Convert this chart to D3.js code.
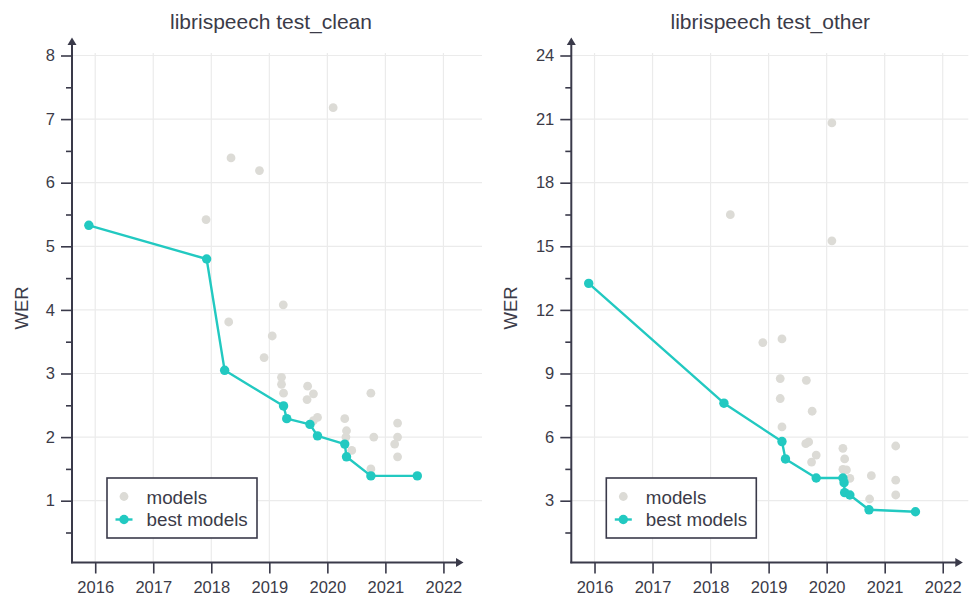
<!DOCTYPE html>
<html>
<head>
<meta charset="utf-8">
<script src="https://cdn.jsdelivr.net/npm/d3@7"></script>
<style>
  body { margin: 0; background: #fff; }
  svg { display: block; font-family: "Liberation Sans", Arial, sans-serif; }
</style>
</head>
<body>
<svg id="chart" width="969" height="597"></svg>
<script>
// ---- data ----
const yearTicks = [2016, 2017, 2018, 2019, 2020, 2021, 2022];
const cleanTicks = [1, 2, 3, 4, 5, 6, 7, 8];
const otherTicks = [3, 6, 9, 12, 15, 18, 21, 24];
const legendLabels = ["models", "best models"];
const panelTitles = ["librispeech test_clean", "librispeech test_other"];
const yLabel = "WER";

// [date as fractional year, WER]
const cleanModels = [
  [2020.10, 7.18], [2018.34, 6.39], [2018.83, 6.19], [2017.91, 5.42],
  [2018.30, 3.81], [2019.24, 4.08], [2019.05, 3.59], [2018.91, 3.25],
  [2019.21, 2.94], [2019.21, 2.83], [2019.245, 2.69], [2019.66, 2.80],
  [2019.76, 2.68], [2019.65, 2.59], [2019.83, 2.31], [2019.76, 2.26],
  [2020.30, 2.29], [2020.33, 2.10], [2020.32, 2.00], [2020.42, 1.79],
  [2020.75, 2.69], [2020.80, 2.00], [2020.75, 1.50], [2021.21, 2.22],
  [2021.21, 2.00], [2021.16, 1.89], [2021.21, 1.69]
];
const cleanBest = [
  [2015.89, 5.33], [2017.92, 4.80], [2018.23, 3.05], [2019.245, 2.49],
  [2019.30, 2.29], [2019.70, 2.20], [2019.83, 2.02], [2020.30, 1.89],
  [2020.33, 1.69], [2020.75, 1.39], [2021.55, 1.39]
];
const otherModels = [
  [2020.09, 20.82], [2018.34, 16.49], [2020.09, 15.26], [2018.90, 10.46],
  [2019.23, 10.63], [2019.20, 8.76], [2019.65, 8.68], [2019.20, 7.82],
  [2019.75, 7.22], [2019.23, 6.48], [2019.64, 5.69], [2019.69, 5.77],
  [2019.82, 5.15], [2019.74, 4.82], [2020.28, 5.47], [2020.31, 4.97],
  [2020.28, 4.48], [2020.34, 4.45], [2020.40, 4.05], [2020.77, 4.18],
  [2020.74, 3.08], [2021.19, 5.58], [2021.19, 3.97], [2021.19, 3.27]
];
const otherBest = [
  [2015.90, 13.25], [2018.23, 7.60], [2019.23, 5.79], [2019.29, 4.97],
  [2019.82, 4.07], [2020.28, 4.07], [2020.30, 3.85], [2020.31, 3.38],
  [2020.40, 3.27], [2020.73, 2.57], [2021.53, 2.48]
];

// ---- styling ----
const ink = "#3a3a4a";
const textColor = "#3b3b48";
const gridColor = "#ebebeb";
const modelColor = "#dcdbd6";
const bestColor = "#22c9c1";

const svg = d3.select("#chart");

function drawPanel(ox, title, majors, minorStep, models, best, labelX) {
  const g = svg.append("g").attr("transform", `translate(${ox},0)`);
  const yMax = majors[majors.length - 1];

  const x = d3.scaleLinear().domain([2015.6, 2022.32]).range([72, 462]);
  const y = d3.scaleLinear().domain([0, yMax]).range([564.3, 55.5]);
  const axisY = 562.5;
  const gridRight = ox === 0 ? 482 : 469;

  // grid
  g.append("g").selectAll("line").data(yearTicks).join("line")
    .attr("x1", d => x(d)).attr("x2", d => x(d))
    .attr("y1", 53).attr("y2", axisY)
    .attr("stroke", gridColor).attr("stroke-width", 1.2);
  g.append("g").selectAll("line").data(majors).join("line")
    .attr("x1", 72).attr("x2", gridRight)
    .attr("y1", d => y(d)).attr("y2", d => y(d))
    .attr("stroke", gridColor).attr("stroke-width", 1.2);

  // other models
  g.append("g").selectAll("circle").data(models).join("circle")
    .attr("cx", d => x(d[0])).attr("cy", d => y(d[1])).attr("r", 4.4)
    .attr("fill", modelColor);

  // best-model frontier
  const line = d3.line().x(d => x(d[0])).y(d => y(d[1]));
  g.append("path").datum(best).attr("d", line)
    .attr("fill", "none").attr("stroke", bestColor).attr("stroke-width", 2.4)
    .attr("stroke-linejoin", "round");
  g.append("g").selectAll("circle").data(best).join("circle")
    .attr("cx", d => x(d[0])).attr("cy", d => y(d[1])).attr("r", 4.7)
    .attr("fill", bestColor);

  // y axis: major ticks with labels, minor ticks between
  const minors = d3.range(minorStep, yMax, minorStep * 2);
  const yMajor = g.append("g").attr("transform", "translate(72,0)")
    .call(d3.axisLeft(y).tickValues(majors).tickSize(11).tickPadding(6));
  const yMinor = g.append("g").attr("transform", "translate(72,0)")
    .call(d3.axisLeft(y).tickValues(minors).tickSize(6).tickFormat(""));
  [yMajor, yMinor].forEach(a => {
    a.select(".domain").remove();
    a.selectAll("line").attr("stroke", ink).attr("stroke-width", 1.6);
    a.selectAll("text").attr("fill", textColor).attr("font-size", 16.5)
      .attr("font-family", "Liberation Sans, Arial, sans-serif");
  });

  // x axis
  const xAxis = g.append("g").attr("transform", `translate(0,${axisY})`)
    .call(d3.axisBottom(x).tickValues(yearTicks).tickFormat(d3.format("d"))
      .tickSize(11).tickPadding(8));
  xAxis.select(".domain").remove();
  xAxis.selectAll("line").attr("stroke", ink).attr("stroke-width", 1.6);
  xAxis.selectAll("text").attr("fill", textColor).attr("font-size", 16.5)
    .attr("font-family", "Liberation Sans, Arial, sans-serif");

  // axis spines with arrow heads
  g.append("line").attr("x1", 72).attr("x2", 72).attr("y1", axisY + 0.8).attr("y2", 44)
    .attr("stroke", ink).attr("stroke-width", 2);
  g.append("path").attr("d", "M72,37.5L76.5,45L67.5,45Z").attr("fill", ink);
  g.append("line").attr("x1", 71).attr("x2", 457).attr("y1", axisY).attr("y2", axisY)
    .attr("stroke", ink).attr("stroke-width", 2);
  g.append("path").attr("d", `M463.5,${axisY}L456,${axisY - 4.5}L456,${axisY + 4.5}Z`).attr("fill", ink);

  // title and y label
  g.append("text").attr("x", 271).attr("y", 28.5).attr("text-anchor", "middle")
    .attr("font-size", 21).attr("fill", textColor).text(title);
  g.append("text").attr("transform", `translate(${labelX},308) rotate(-90)`)
    .attr("text-anchor", "middle").attr("font-size", 18.5).attr("fill", textColor)
    .text(yLabel);

  // legend
  const lg = g.append("g").attr("transform", "translate(107,478)");
  lg.append("rect").attr("width", 150).attr("height", 60)
    .attr("fill", "#fff").attr("stroke", ink).attr("stroke-width", 1.6);
  lg.append("circle").attr("cx", 17).attr("cy", 18.5).attr("r", 4.4).attr("fill", modelColor);
  lg.append("line").attr("x1", 8.5).attr("x2", 25.5).attr("y1", 41.5).attr("y2", 41.5)
    .attr("stroke", bestColor).attr("stroke-width", 2.4);
  lg.append("circle").attr("cx", 17).attr("cy", 41.5).attr("r", 4.7).attr("fill", bestColor);
  lg.selectAll("text.item").data(legendLabels).join("text").attr("class", "item")
    .attr("x", 39.5).attr("y", (d, i) => 25.5 + i * 22.5)
    .attr("font-size", 18.8).attr("fill", textColor).text(d => d);
}

drawPanel(0, panelTitles[0], cleanTicks, 0.5, cleanModels, cleanBest, 27.5);
drawPanel(499.3, panelTitles[1], otherTicks, 1.5, otherModels, otherBest, 18);
</script>
</body>
</html>
